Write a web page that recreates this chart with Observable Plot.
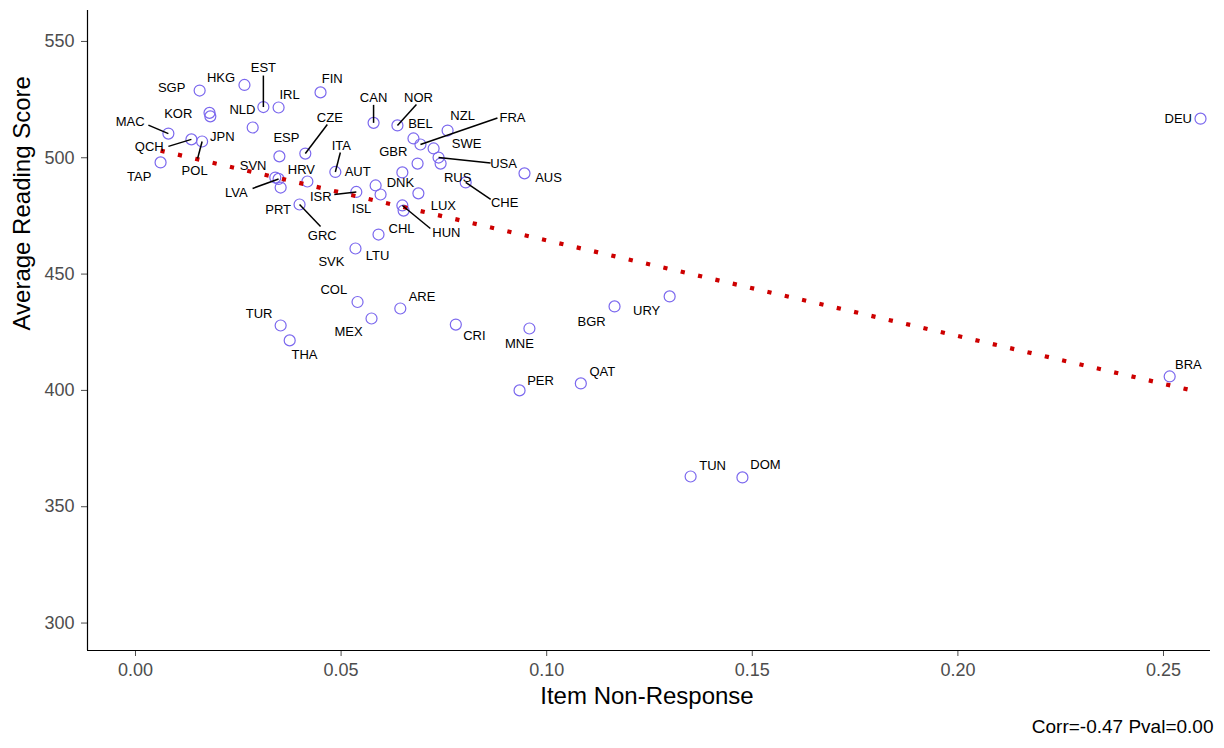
<!DOCTYPE html>
<html>
<head>
<meta charset="utf-8">
<script src="https://cdn.jsdelivr.net/npm/d3@7"></script>
<script src="https://cdn.jsdelivr.net/npm/@observablehq/plot@0.6"></script>
<style>
  html, body { margin: 0; padding: 0; background: #fff; }
  #chart svg { display: block; }
</style>
</head>
<body>
<div id="chart"></div>
<script>
// ---- Data ----
const countries = ["SGP","HKG","EST","IRL","FIN","KOR","JPN","NLD","MAC","QCH",
  "POL","TAP","ESP","CZE","CAN","NOR","NZL","BEL","FRA","SWE",
  "USA","RUS","GBR","ITA","DNK","AUS","SVN","LVA","PRT","HRV",
  "CHE","AUT","ISL","ISR","SVK","HUN","LUX","GRC","CHL","LTU",
  "COL","ARE","MEX","TUR","THA","CRI","MNE","BGR","URY","PER",
  "QAT","TUN","DOM","BRA","DEU"];
const nonResponse = [0.0156,0.0265,0.0311,0.0348,0.0450,0.0180,0.0182,0.0285,0.0080,0.0136,
  0.0162,0.0061,0.0350,0.0413,0.0579,0.0637,0.0759,0.0676,0.0693,0.0725,
  0.0737,0.0742,0.0686,0.0486,0.0649,0.0946,0.0340,0.0348,0.0353,0.0418,
  0.0803,0.0584,0.0596,0.0537,0.0688,0.0649,0.0652,0.0399,0.0591,0.0535,
  0.0540,0.0644,0.0574,0.0353,0.0375,0.0779,0.0958,0.1165,0.1299,0.0934,
  0.1083,0.1350,0.1476,0.2515,0.2590];
const readingScore = [528.9,531.3,521.8,521.6,528.1,519.3,517.8,513.0,510.4,507.9,
  507.0,498.0,500.6,501.8,515.0,513.9,511.7,508.3,505.7,504.0,
  500.1,497.5,497.5,493.9,493.7,493.3,491.5,490.9,487.2,489.8,
  489.4,488.1,484.2,485.3,484.7,479.5,477.3,479.9,467.0,461.0,
  438.0,435.2,430.9,427.9,421.5,428.3,426.6,436.1,440.4,400.0,
  403.0,363.0,362.6,406.0,516.8];
const xTicks = [0, 0.05, 0.10, 0.15, 0.20, 0.25];
const yTicks = [300, 350, 400, 450, 500, 550];
const xTitle = "Item Non-Response";
const yTitle = "Average Reading Score";
const caption = "Corr=-0.47 Pval=0.00";

// ---- Label layout (repelled label offsets in px, and leader-line starts) ----
const labelDx = [-28,-23.5,0,11,11.7,-31.3,12,-10.3,-38.3,-42.2,
  -7.5,-21.3,7,24.5,0,21,15,7,92,33,
  65,17,-24.3,6,-2,24,-22.2,-42.3,-2.5,-6,
  39,-18,-19,-35.5,-87,44,39.7,22.7,23,22,
  -23.7,21.7,-23,-21.5,14.8,18.5,-10,-23,-23,21,
  21.5,22,23,18.7,-22.3];
const labelDy = [-2.5,-7,-39,-12.7,-13.7,0.8,20.7,-17.7,-11.3,7.7,
  29.7,14.7,-18.3,-35.7,-25.5,-27.7,-14.3,-14.7,-26.7,-4.7,
  6.3,14.7,-11.3,-26.5,10.3,4,-12,14.2,22.3,-12,
  20.7,-13.3,14.3,4.5,68.7,27.3,-5,31.7,-5.7,7,
  -12.2,-12,13.7,-11.7,14.3,11,15.3,15,14.7,-10,
  -11.3,-11,-13,-11.7,0];
const leaders = {
  EST:[0,-31.5], MAC:[-20,-8.5], QCH:[-23,7], POL:[-4.5,17], CZE:[22,-29],
  CAN:[0,-18], NOR:[19,-21], FRA:[77,-26.5], USA:[52,5.5], ITA:[5,-19.5],
  LVA:[-26,9.5], CHE:[25,17], ISR:[-22,2.5], HUN:[28,23], GRC:[21,22]
};

// ---- Scales ----
const W = 1224, H = 748;
const mL = 87, mR = 14, mT = 10, mB = 98;
const xDomain = [-0.01167, 0.26143];
const yDomain = [288.2, 563.3];
const xs = d3.scaleLinear(xDomain, [mL, W - mR]);
const ys = d3.scaleLinear(yDomain, [H - mB, mT]);

const rows = countries.map((c, i) => {
  const px = xs(nonResponse[i]), py = ys(readingScore[i]);
  const r = {
    code: c, x: nonResponse[i], y: readingScore[i],
    lx: xs.invert(px + labelDx[i]), ly: ys.invert(py + labelDy[i])
  };
  if (leaders[c]) {
    r.sx = xs.invert(px + leaders[c][0]);
    r.sy = ys.invert(py + leaders[c][1]);
  }
  return r;
});
const segRows = rows.filter(r => r.sx !== undefined);

const font = "'Liberation Sans', Arial, Helvetica, sans-serif";

const chart = Plot.plot({
  width: W, height: H,
  marginLeft: mL, marginRight: mR, marginTop: mT, marginBottom: mB,
  style: { fontFamily: font, background: "#fff", overflow: "visible" },
  x: { domain: xDomain },
  y: { domain: yDomain },
  marks: [
    Plot.axisX({ ticks: xTicks, tickFormat: d3.format(".2f"), tickSize: 6, tickPadding: 7,
      fontSize: 18, color: "#4d4d4d", label: null }),
    Plot.axisY({ ticks: yTicks, tickFormat: d3.format("d"), tickSize: 6, tickPadding: 7,
      fontSize: 18, color: "#4d4d4d", label: null }),
    Plot.ruleX([xDomain[0]], { stroke: "#000", strokeWidth: 1.2 }),
    Plot.ruleY([yDomain[0]], { stroke: "#000", strokeWidth: 1.2 }),
    Plot.dot(rows, { x: "x", y: "y", r: 5.5, stroke: "#7b68ee", strokeWidth: 1.2, fill: "none" }),
    Plot.linearRegressionY(rows, { x: "x", y: "y", ci: 0, stroke: "#cd0000",
      strokeWidth: 4.2, strokeDasharray: "4.2,13.6", strokeLinecap: "butt" }),
    Plot.link(segRows, { x1: "sx", y1: "sy", x2: "x", y2: "y", stroke: "#000", strokeWidth: 1.5 }),
    Plot.text(rows, { x: "lx", y: "ly", text: "code", fontSize: 13, fill: "#000" }),
    Plot.text([xTitle], { frameAnchor: "bottom", dx: -2, dy: 53, fontSize: 24, fill: "#000" }),
    Plot.text([yTitle], { frameAnchor: "left", dx: -65, rotate: -90, fontSize: 24, fill: "#000" }),
    Plot.text([caption], { frameAnchor: "bottom-right", dx: 3, dy: 82, fontSize: 19, fill: "#000" })
  ]
});
document.getElementById("chart").appendChild(chart);
</script>
</body>
</html>
